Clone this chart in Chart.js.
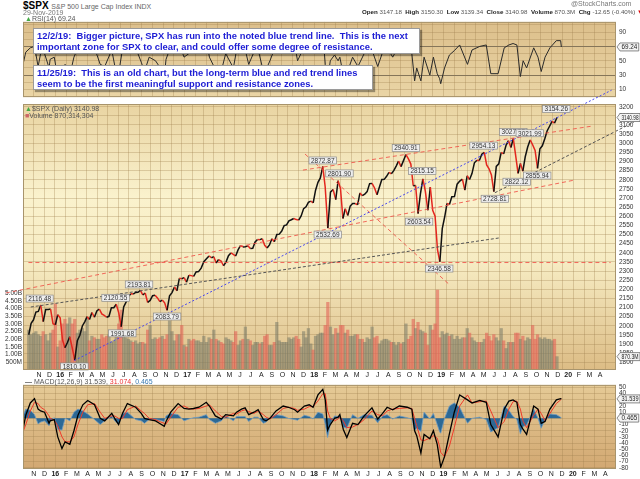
<!DOCTYPE html>
<html>
<head>
<meta charset="utf-8">
<title>$SPX</title>
<script src="https://cdn.jsdelivr.net/npm/chart.js@4.4.1/dist/chart.umd.min.js"></script>
<style>
  body { margin: 0; background: #fff; }
  #wrap { position: relative; width: 640px; height: 479px; overflow: hidden; font-family: "Liberation Sans", Arial, sans-serif; }
  canvas { position: absolute; left: 0; }
  .t { position: absolute; white-space: pre; font-size: 7px; line-height: 8px; color: #555; z-index: 3; }
  .t b { color: #222; }
  .note { position: absolute; z-index: 5; box-sizing: border-box; background: #fff; border: 1px solid #9a9a9a;
          box-shadow: 2px 2px 1px rgba(0,0,0,0.35); color: #1c1cd4; font: bold 9.4px "Liberation Sans", Arial, sans-serif;
          line-height: 11px; padding: 1px 0 0 3px; white-space: pre; }
</style>
</head>
<body>
<div id="wrap">
  <canvas id="rsiChart" width="640" height="89" style="top:15px;z-index:1"></canvas>
  <canvas id="priceChart" width="640" height="298" style="top:80px;z-index:2"></canvas>
  <canvas id="macdChart" width="640" height="101" style="top:378px;z-index:1"></canvas>

  <div class="t" style="left:23px;top:0px;font-size:10px;line-height:11px;"><b style="color:#000">$SPX</b> <span style="font-size:7px;color:#666">S&amp;P 500 Large Cap Index INDX</span></div>
  <div class="t" style="left:23px;top:9px;color:#777">29-Nov-2019</div>
  <div class="t" style="left:571px;top:0px;color:#777">@StockCharts.com</div>
  <div class="t" style="left:362px;top:8px;font-size:6.2px;"><b>Open</b> 3147.18  <b>High</b> 3150.30  <b>Low</b> 3139.34  <b>Close</b> 3140.98  <b>Volume</b> 870.3M  <b>Chg</b> -12.65 (-0.40%) <span style="color:#d00">▼</span></div>

  <div class="t" style="left:25px;top:15px;"><span style="color:#4a4">▲</span>RSI(14) 69.24</div>
  <div class="t" style="left:25px;top:105px;"><span style="color:#4a4">▲</span>$SPX (Daily) 3140.98</div>
  <div class="t" style="left:25px;top:112px;"><span style="color:#c66">■</span>Volume 870,314,304</div>
  <div class="t" style="left:25px;top:378px;"><span style="color:#000">—</span> MACD(12,26,9) 31.539, <span style="color:#e33">31.074</span>, <span style="color:#3a7ab0">0.465</span></div>

  <div class="note" style="left:33px;top:28px;width:387px;height:26px;">12/2/19:  Bigger picture, SPX has run into the noted blue trend line.  This is the next
important zone for SPX to clear, and could offer some degree of resistance.</div>
  <div class="note" style="left:33px;top:65px;width:340px;height:25px;">11/25/19:  This is an old chart, but the long-term blue and red trend lines
seem to be the first meaningful support and resistance zones.</div>
</div>

<script>
// $SPX price and volume, one reading per week (swing extremes kept)
const weekDates = [
  '2015-10-02','2015-10-09','2015-10-16','2015-10-23','2015-10-30','2015-11-06','2015-11-13','2015-11-20','2015-11-27',
  '2015-12-04','2015-12-11','2015-12-18','2015-12-25',
  '2016-01-01','2016-01-08','2016-01-15','2016-01-22','2016-01-29','2016-02-05','2016-02-12','2016-02-19','2016-02-26',
  '2016-03-04','2016-03-11','2016-03-18','2016-03-25','2016-04-01','2016-04-08','2016-04-15','2016-04-22','2016-04-29',
  '2016-05-06','2016-05-13','2016-05-20','2016-05-27','2016-06-03','2016-06-10','2016-06-17','2016-06-24',
  '2016-07-01','2016-07-08','2016-07-15','2016-07-22','2016-07-29','2016-08-05','2016-08-12','2016-08-19','2016-08-26',
  '2016-09-02','2016-09-09','2016-09-16','2016-09-23','2016-09-30','2016-10-07','2016-10-14','2016-10-21','2016-10-28',
  '2016-11-04','2016-11-11','2016-11-18','2016-11-25','2016-12-02','2016-12-09','2016-12-16','2016-12-23','2016-12-30',
  '2017-01-06','2017-01-13','2017-01-20','2017-01-27','2017-02-03','2017-02-10','2017-02-17','2017-02-24',
  '2017-03-03','2017-03-10','2017-03-17','2017-03-24','2017-03-31','2017-04-07','2017-04-14','2017-04-21','2017-04-28',
  '2017-05-05','2017-05-12','2017-05-19','2017-05-26','2017-06-02','2017-06-09','2017-06-16','2017-06-23','2017-06-30',
  '2017-07-07','2017-07-14','2017-07-21','2017-07-28','2017-08-04','2017-08-11','2017-08-18','2017-08-25',
  '2017-09-01','2017-09-08','2017-09-15','2017-09-22','2017-09-29','2017-10-06','2017-10-13','2017-10-20','2017-10-27',
  '2017-11-03','2017-11-10','2017-11-17','2017-11-24','2017-12-01','2017-12-08','2017-12-15','2017-12-22','2017-12-29',
  '2018-01-05','2018-01-12','2018-01-19','2018-01-26','2018-02-02','2018-02-09','2018-02-16','2018-02-23',
  '2018-03-02','2018-03-09','2018-03-16','2018-03-23','2018-03-30','2018-04-06','2018-04-13','2018-04-20','2018-04-27',
  '2018-05-04','2018-05-11','2018-05-18','2018-05-25','2018-06-01','2018-06-08','2018-06-15','2018-06-22','2018-06-29',
  '2018-07-06','2018-07-13','2018-07-20','2018-07-27','2018-08-03','2018-08-10','2018-08-17','2018-08-24','2018-08-31',
  '2018-09-07','2018-09-14','2018-09-21','2018-09-28','2018-10-05','2018-10-12','2018-10-19','2018-10-26',
  '2018-11-02','2018-11-09','2018-11-16','2018-11-23','2018-11-30','2018-12-07','2018-12-14','2018-12-21','2018-12-28',
  '2019-01-04','2019-01-11','2019-01-18','2019-01-25','2019-02-01','2019-02-08','2019-02-15','2019-02-22',
  '2019-03-01','2019-03-08','2019-03-15','2019-03-22','2019-03-29','2019-04-05','2019-04-12','2019-04-19','2019-04-26',
  '2019-05-03','2019-05-10','2019-05-17','2019-05-24','2019-05-31','2019-06-07','2019-06-14','2019-06-21','2019-06-28',
  '2019-07-05','2019-07-12','2019-07-19','2019-07-26','2019-08-02','2019-08-09','2019-08-16','2019-08-23','2019-08-30',
  '2019-09-06','2019-09-13','2019-09-20','2019-09-27','2019-10-04','2019-10-11','2019-10-18','2019-10-25',
  '2019-11-01','2019-11-08','2019-11-15','2019-11-22','2019-11-29'
];
const closes = [
  1951, 2014, 2033, 2075, 2079, 2114, 2023, 2089, 2090, 2092, 2012, 2006, 2061,
  2044, 1922, 1880, 1907, 1940, 1880, 1812, 1918, 1948, 1999, 2022, 2050, 2035,
  2073, 2047, 2081, 2092, 2065, 2057, 2047, 2052, 2099, 2099, 2118, 2071, 1995,
  2103, 2130, 2162, 2175, 2174, 2183, 2184, 2194, 2169, 2180, 2128, 2139, 2165, 2168,
  2153, 2133, 2141, 2126, 2085, 2164, 2182, 2213, 2192, 2260, 2258, 2264, 2239,
  2277, 2275, 2271, 2295, 2297, 2316, 2351, 2367, 2383, 2373, 2378, 2344, 2363,
  2355, 2329, 2349, 2384, 2399, 2391, 2382, 2416, 2439, 2432, 2433, 2438, 2423,
  2425, 2459, 2473, 2472, 2477, 2441, 2426, 2443, 2477, 2461, 2500, 2502, 2519,
  2549, 2553, 2575, 2581, 2588, 2582, 2579, 2602, 2642, 2652, 2676, 2683, 2674,
  2743, 2786, 2810, 2873, 2762, 2535, 2732, 2747, 2691, 2795, 2752, 2588, 2641,
  2604, 2656, 2670, 2670, 2663, 2728, 2713, 2721, 2735, 2779, 2780, 2755, 2718,
  2760, 2801, 2802, 2819, 2840, 2833, 2850, 2875, 2902, 2872, 2905, 2938, 2914,
  2886, 2767, 2768, 2615, 2723, 2805, 2736, 2633, 2760, 2633, 2600, 2417, 2351,
  2532, 2596, 2671, 2665, 2707, 2708, 2776, 2793, 2804, 2743, 2822, 2801, 2834,
  2893, 2907, 2905, 2940, 2950, 2881, 2860, 2826, 2735, 2873, 2887, 2950, 2942,
  2990, 3014, 2977, 3026, 2932, 2835, 2889, 2847, 2926, 2979, 3018, 2992, 2961,
  2862, 2970, 2986, 3023, 3067, 3093, 3120, 3110, 3141
];
// volume, billions of shares
const volumes = [
  2.6, 2.3, 2.4, 2.5, 2.3, 2.2, 2.5, 2.3, 1.9, 2.4, 2.6, 4.3, 1.5,
  1.9, 3.0, 3.3, 3.0, 3.4, 3.0, 3.3, 2.4, 2.6, 2.7, 2.5, 3.4, 1.9,
  2.2, 2.1, 2.0, 2.0, 2.3, 2.1, 2.2, 2.3, 1.8, 1.9, 2.2, 3.0, 3.9,
  2.3, 2.1, 2.0, 1.9, 1.8, 1.9, 1.7, 1.8, 1.8, 1.7, 2.6, 2.9, 2.0, 2.1,
  2.0, 2.1, 2.2, 2.0, 2.3, 3.2, 2.5, 1.9, 2.3, 2.3, 2.9, 1.6, 1.5,
  2.0, 1.9, 2.0, 1.9, 1.9, 1.8, 2.2, 1.8, 2.1, 2.0, 2.6, 2.0, 1.9,
  1.8, 1.7, 2.1, 2.0, 1.9, 1.8, 2.5, 1.6, 1.9, 2.0, 2.8, 2.0, 1.9,
  1.6, 1.8, 1.8, 1.7, 1.8, 2.2, 2.3, 1.6, 1.6, 1.8, 3.1, 1.9, 1.8,
  1.8, 1.8, 2.1, 2.0, 2.1, 2.2, 2.0, 1.5, 2.5, 2.1, 2.7, 1.7, 1.3,
  2.2, 2.3, 2.4, 2.4, 2.9, 4.4, 2.8, 2.3, 2.7, 2.4, 2.9, 2.9, 2.4,
  2.6, 2.2, 2.2, 2.3, 2.3, 2.0, 2.0, 1.8, 2.1, 2.0, 2.8, 2.1, 2.2,
  1.7, 1.9, 2.0, 2.0, 1.9, 1.8, 1.8, 1.6, 1.8, 1.7, 1.8, 3.0, 2.0,
  2.2, 3.3, 2.7, 3.1, 2.6, 2.5, 2.4, 1.6, 2.9, 2.6, 3.0, 5.2, 2.1,
  2.5, 2.3, 2.4, 2.2, 2.3, 2.0, 2.2, 2.0, 2.1, 2.1, 2.7, 2.4, 2.1,
  1.9, 1.8, 1.8, 1.8, 2.0, 2.4, 2.2, 1.9, 2.3, 2.1, 1.9, 2.7, 1.9,
  1.4, 1.8, 1.8, 1.8, 2.4, 2.4, 2.0, 2.2, 1.9, 2.1, 2.0, 2.9, 2.0,
  2.3, 2.1, 2.0, 2.1, 2.0, 2.0, 1.9, 2.0, 0.87
];

// RSI(14) and MACD(12,26,9) read at the swings
const indicatorDates = [
  '2015-10-01','2015-10-09','2015-10-22','2015-11-03','2015-11-13','2015-11-20','2015-12-01','2015-12-14','2015-12-17','2015-12-29',
  '2016-01-08','2016-01-20','2016-01-29','2016-02-11','2016-02-22','2016-03-04','2016-03-18','2016-04-01','2016-04-20','2016-05-06',
  '2016-05-19','2016-06-08','2016-06-16','2016-06-27','2016-07-08','2016-07-22','2016-08-15','2016-08-31','2016-09-09','2016-09-22',
  '2016-10-10','2016-10-21','2016-11-04','2016-11-09','2016-11-22','2016-12-13','2016-12-30',
  '2017-01-13','2017-01-26','2017-02-10','2017-03-01','2017-03-10','2017-03-27','2017-04-13','2017-04-25','2017-05-17','2017-05-26',
  '2017-06-09','2017-06-19','2017-06-29','2017-07-14','2017-07-26','2017-08-10','2017-08-18','2017-08-29','2017-09-15','2017-10-05',
  '2017-10-20','2017-11-07','2017-11-15','2017-12-04','2017-12-18','2017-12-29',
  '2018-01-12','2018-01-26','2018-02-02','2018-02-08','2018-02-15','2018-02-26','2018-03-08','2018-03-13','2018-03-23','2018-04-02',
  '2018-04-18','2018-05-03','2018-05-21','2018-06-12','2018-06-28','2018-07-12','2018-07-25','2018-08-10','2018-08-29','2018-09-20',
  '2018-10-03','2018-10-11','2018-10-17','2018-10-29','2018-11-07','2018-11-23','2018-12-03','2018-12-14','2018-12-21','2018-12-24',
  '2019-01-04','2019-01-18','2019-02-01','2019-02-15','2019-03-08','2019-03-21','2019-04-12','2019-04-30','2019-05-13','2019-06-03',
  '2019-06-20','2019-07-03','2019-07-15','2019-07-26','2019-08-05','2019-08-13','2019-08-23','2019-09-12','2019-09-24','2019-10-03',
  '2019-10-14','2019-10-28','2019-11-15','2019-11-27','2019-11-29'
];
const rsiValues = [
  45, 62, 68, 70, 42, 60, 60, 40, 52, 55,
  25, 22, 45, 30, 55, 68, 72, 70, 68, 45,
  42, 65, 44, 32, 66, 78, 68, 48, 35, 55,
  50, 42, 28, 52, 70, 78, 55,
  60, 68, 66, 80, 55, 38, 36, 60, 40, 65,
  62, 66, 45, 62, 66, 35, 38, 50, 72, 80,
  75, 72, 50, 70, 72, 62,
  85, 88, 45, 22, 50, 58, 50, 55, 30, 32,
  55, 42, 60, 65, 42, 62, 68, 55, 72, 68,
  60, 22, 40, 22, 55, 30, 55, 32, 25, 18,
  40, 58, 64, 72, 45, 65, 70, 72, 32, 32,
  68, 72, 74, 72, 28, 50, 40, 68, 55, 35,
  55, 68, 78, 78, 69.24
];
const macdValues = [
  -18, 5, 25, 32, 15, 12, 10, -8, -4, -2,
  -30, -49, -38, -42, -20, 5, 22, 29, 22, 0,
  -4, 8, 0, -10, 8, 24, 18, 8, 0, -2,
  -4, -8, -13, -5, 10, 24, 16,
  15, 16, 18, 26, 20, 4, -1, 6, 4, 10,
  15, 17, 6, 10, 14, -2, -4, 0, 12, 20,
  18, 14, 10, 20, 22, 18,
  38, 47, 30, -19, -10, 0, 2, 6, -18, -31,
  -8, -10, 4, 17, -1, 8, 18, 14, 20, 18,
  15, -20, -28, -56, -26, -33, -20, -42, -68, -79,
  -62, -25, 10, 38, 30, 25, 29, 26, -10, -30,
  15, 28, 30, 26, -10, -18, -26, 20, 15, -8,
  -5, 15, 30, 32, 31.539
];
const signalValues = [
  -22, -10, 12, 26, 24, 18, 14, 4, 0, -3,
  -12, -30, -38, -38, -30, -10, 10, 22, 24, 10,
  0, 4, 4, 0, 0, 14, 20, 12, 8, 0,
  -2, -5, -8, -9, 2, 18, 20,
  16, 15, 16, 20, 22, 12, 3, 2, 8, 7,
  12, 14, 11, 8, 12, 6, 2, -1, 6, 16,
  18, 16, 13, 15, 19, 19,
  28, 40, 40, 12, 0, -4, -1, 2, -4, -15,
  -14, -10, -2, 12, 6, 4, 12, 15, 16, 17,
  16, 0, -12, -35, -36, -32, -28, -32, -46, -55,
  -62, -45, -15, 20, 38, 25, 27, 28, 12, -15,
  -5, 15, 27, 28, 15, -5, -15, 5, 15, 8,
  -4, 8, 24, 30, 31.074
];
const histValues = [
  4, 15, 13, 6, -9, -6, -4, -12, -4, 1,
  -18, -19, 0, -4, 10, 15, 12, 7, -2, -10,
  -4, 4, -4, -10, 8, 10, -2, -4, -8, -2,
  -2, -3, -5, 4, 8, 6, -4,
  -1, 1, 2, 6, -2, -8, -4, 4, -4, 3,
  3, 3, -5, 2, 2, -8, -6, 1, 6, 4,
  0, -2, -3, 5, 3, -1,
  10, 7, -10, -31, -10, 4, 3, 4, -14, -16,
  6, 0, 6, 5, -7, 4, 6, -1, 4, 1,
  -1, -20, -16, -21, 10, -1, 8, -10, -22, -24,
  0, 20, 25, 18, -8, 0, 2, -2, -22, -15,
  20, 13, 3, -2, -25, -13, -11, 15, 0, -16,
  -1, 7, 6, 2, 0.465
];

// axis labels, one per month from Oct 2015
const monthLabels = ['O','N','D',
  '16','F','M','A','M','J','J','A','S','O','N','D',
  '17','F','M','A','M','J','J','A','S','O','N','D',
  '18','F','M','A','M','J','J','A','S','O','N','D',
  '19','F','M','A','M','J','J','A','S','O','N','D',
  '20','F','M','A'];
const priceTicks = [1800,1850,1900,1950,2000,2050,2100,2150,2200,2250,2300,2350,2400,2450,2500,
  2550,2600,2650,2700,2750,2800,2850,2900,2950,3000,3050,3100,3150,3200];
const volumeTicks = [0.5,1,1.5,2,2.5,3,3.5,4,4.5,5];
const rsiTicks = [0,10,20,30,40,50,60,70,80,90,100];
const macdTicks = [-80,-70,-60,-50,-40,-30,-20,-10,0,10,20,30,40,50];

// hand-drawn annotations on the chart: [kind, from date, from price, to date, to price]
const trendLines = [
  ['blue', '2016-02-11', 1810.10, '2020-05-04', 3291],
  ['red',  '2015-07-28', 2180,    '2020-01-21', 2799],
  ['red',  '2017-11-29', 2853,    '2020-03-09', 3094],
  ['red',  '2017-12-05', 2941,    '2019-01-26', 2224],
  ['red',  '2015-10-01', 2346.58, '2020-05-01', 2346.58],
  ['gray', '2015-10-08', 2103,    '2019-06-14', 2481],
  ['gray', '2019-06-03', 2728.81, '2020-07-07', 3116]
];
// price labels: [date, price, H = peak / L = trough]
const priceNotes = [
  ['2015-11-03', 2116.48, 'H'], ['2016-02-11', 1810.10, 'L'], ['2016-06-08', 2120.55, 'H'],
  ['2016-06-27', 1991.68, 'L'], ['2016-08-15', 2193.81, 'H'], ['2016-11-04', 2083.79, 'L'],
  ['2018-01-26', 2872.87, 'H'], ['2018-03-13', 2801.90, 'H'], ['2018-02-09', 2532.69, 'L'],
  ['2018-09-21', 2940.91, 'H'], ['2018-11-07', 2815.15, 'H'], ['2018-10-29', 2603.54, 'L'],
  ['2018-12-26', 2346.58, 'L'], ['2019-05-01', 2954.13, 'H'], ['2019-06-03', 2728.81, 'L'],
  ['2019-07-26', 3027.98, 'H'], ['2019-09-12', 3021.99, 'H'], ['2019-08-05', 2822.12, 'L'],
  ['2019-10-03', 2855.94, 'L'], ['2019-11-27', 3154.26, 'H']
];

const FONT = '"Liberation Sans", Arial, sans-serif';
const GRID = 'rgba(160,128,78,0.32)';
const UP = '#111';
const DOWN = '#e3261e';
const lineStyles = {
  blue: { color: '#4646f0', dash: [2, 2], width: 1 },
  red:  { color: 'rgba(240,80,70,0.85)', dash: [4, 3], width: 1 },
  gray: { color: '#555', dash: [3, 2], width: 1 }
};

// date string -> months since 1 Oct 2015
function toX(s) {
  const [y, m, d] = s.split('-').map(Number);
  const days = new Date(y, m, 0).getDate();
  return (y - 2015) * 12 + (m - 1) - 9 + (d - 1) / days;
}
const pairUp = (ds, vals) => vals.map((v, i) => ({ x: toX(ds[i]), y: v }));

Chart.defaults.font.family = FONT;
Chart.defaults.color = '#333';

const panelBg = {
  id: 'panelBg',
  beforeDraw(chart, args, opts) {
    const { ctx, chartArea: a } = chart;
    const g = ctx.createLinearGradient(0, a.top, 0, a.bottom);
    opts.stops.forEach(s => g.addColorStop(s[0], s[1]));
    ctx.save();
    ctx.fillStyle = g;
    ctx.fillRect(a.left, a.top, a.right - a.left, a.bottom - a.top);
    ctx.restore();
  },
  afterDraw(chart) {
    const { ctx, chartArea: a } = chart;
    ctx.save();
    ctx.strokeStyle = '#a8946c';
    ctx.lineWidth = 1;
    ctx.strokeRect(a.left + 0.5, a.top + 0.5, a.right - a.left - 1, a.bottom - a.top - 1);
    ctx.restore();
  }
};

// boxed last values on the right edge
const valueTags = {
  id: 'tags',
  afterDraw(chart, args, opts) {
    const ctx = chart.ctx;
    ctx.save();
    ctx.font = '6.3px ' + FONT;
    ctx.textBaseline = 'middle';
    opts.items.forEach(t => {
      const y = chart.scales[t.scale].getPixelForValue(t.value);
      const x = chart.chartArea.right + 1;
      const room = chart.width - (x + 5) - 1;
      const tw = Math.min(ctx.measureText(t.text).width, room);
      const w = tw + 3;
      ctx.beginPath();
      ctx.moveTo(x, y);
      ctx.lineTo(x + 3, y - 4);
      ctx.lineTo(x + 3 + w, y - 4);
      ctx.lineTo(x + 3 + w, y + 4);
      ctx.lineTo(x + 3, y + 4);
      ctx.closePath();
      ctx.fillStyle = '#f4f4f4';
      ctx.fill();
      ctx.strokeStyle = '#6d6d6d';
      ctx.lineWidth = 0.8;
      ctx.stroke();
      ctx.fillStyle = '#222';
      ctx.fillText(t.text, x + 4.5, y + 0.5, tw);
    });
    ctx.restore();
  }
};

const annotations = {
  id: 'annotations',
  afterDatasetsDraw(chart) {
    const { ctx, scales: { x, y } } = chart;
    ctx.save();
    trendLines.forEach(([kind, d1, p1, d2, p2]) => {
      const st = lineStyles[kind];
      ctx.strokeStyle = st.color;
      ctx.lineWidth = st.width;
      ctx.setLineDash(st.dash);
      ctx.beginPath();
      ctx.moveTo(x.getPixelForValue(toX(d1)), y.getPixelForValue(p1));
      ctx.lineTo(x.getPixelForValue(toX(d2)), y.getPixelForValue(p2));
      ctx.stroke();
    });
    ctx.setLineDash([]);
    ctx.font = '6.5px ' + FONT;
    ctx.textBaseline = 'middle';
    ctx.textAlign = 'center';
    priceNotes.forEach(([d, p, kind]) => {
      const px = x.getPixelForValue(toX(d));
      const py = y.getPixelForValue(p);
      const txt = p.toFixed(2);
      const w = ctx.measureText(txt).width + 4;
      const h = 7;
      const cy = kind === 'H' ? py - 6 : py + 6;
      ctx.fillStyle = '#eeeeee';
      ctx.strokeStyle = '#8a8a8a';
      ctx.lineWidth = 0.7;
      ctx.fillRect(px - w / 2, cy - h / 2, w, h);
      ctx.strokeRect(px - w / 2, cy - h / 2, w, h);
      ctx.fillStyle = '#333';
      ctx.fillText(txt, px, cy + 0.5);
    });
    ctx.restore();
  }
};

function xAxis(labelHeight) {
  return {
    type: 'linear', min: 0, max: 55,
    afterBuildTicks: s => { s.ticks = monthLabels.map((l, i) => ({ value: i })); },
    afterFit: s => { s.height = labelHeight; },
    grid: { color: GRID, drawTicks: false },
    border: { display: false },
    ticks: {
      display: labelHeight > 0, autoSkip: false, maxRotation: 0, padding: 1, color: '#222',
      font: c => ({ size: 7, weight: /\d/.test(monthLabels[c.index] || '') ? 'bold' : 'normal' }),
      callback: (v, i) => (i === 0 ? '' : monthLabels[i])
    }
  };
}
function rightAxis(min, max, ticks, fmt, gridColor) {
  return {
    position: 'right', min: min, max: max,
    afterBuildTicks: s => { s.ticks = ticks.map(v => ({ value: v })); },
    afterFit: s => { s.width = 24; },
    grid: { color: gridColor || GRID, drawTicks: false },
    border: { display: false },
    ticks: { autoSkip: false, padding: 3, color: '#333', font: { size: 6.5 }, callback: fmt }
  };
}
const common = {
  responsive: false, animation: false, devicePixelRatio: 1, events: [],
  elements: { point: { radius: 0 } }
};

// RSI panel
new Chart(document.getElementById('rsiChart'), {
  type: 'line',
  data: { datasets: [{ data: pairUp(indicatorDates, rsiValues), borderColor: '#2a2a2a', borderWidth: 1, tension: 0 }] },
  options: Object.assign({}, common, {
    layout: { padding: { left: 23, right: 0, top: 0, bottom: 0 } },
    scales: {
      x: xAxis(0),
      y: rightAxis(-0.6, 104.1, rsiTicks, v => (v % 20 === 10 ? v : ''),
        c => (c.tick && (c.tick.value === 30 || c.tick.value === 70) ? '#857559' : GRID))
    },
    plugins: {
      legend: { display: false }, tooltip: { enabled: false },
      panelBg: { stops: [[0, '#dcbf8b'], [1, '#ead5a6']] },
      tags: { items: [{ scale: 'y', value: 69.24, text: '69.24' }] }
    }
  }),
  plugins: [panelBg, valueTags]
});

// price + volume panel
const volColors = closes.map((c, i) => (i > 0 && c < closes[i - 1] ? 'rgba(226,98,86,0.6)' : 'rgba(120,122,104,0.55)'));
new Chart(document.getElementById('priceChart'), {
  type: 'line',
  data: {
    datasets: [
      {
        data: pairUp(weekDates, closes), yAxisID: 'y', order: 0,
        borderWidth: 1.5, tension: 0, borderColor: UP,
        segment: { borderColor: c => (c.p1.parsed.y < c.p0.parsed.y ? DOWN : UP) }
      },
      {
        type: 'bar', data: pairUp(weekDates, volumes), yAxisID: 'vol', order: 1,
        backgroundColor: volColors, barThickness: 2.6
      }
    ]
  },
  options: Object.assign({}, common, {
    layout: { padding: { left: 0, right: 0, top: 24, bottom: 0 } },
    scales: {
      x: xAxis(8),
      y: rightAxis(1758, 3215, priceTicks, v => v),
      vol: {
        position: 'left', min: 0, max: 17.3,
        afterBuildTicks: s => { s.ticks = volumeTicks.map(v => ({ value: v })); },
        afterFit: s => { s.width = 23; },
        grid: { display: false, drawTicks: false }, border: { display: false },
        ticks: { autoSkip: false, padding: 1, color: '#333', font: { size: 6.5 },
          callback: v => (v < 1 ? Math.round(v * 1000) + 'M' : v.toFixed(2) + 'B') }
      }
    },
    plugins: {
      legend: { display: false }, tooltip: { enabled: false },
      panelBg: { stops: [[0, '#e9d4a2'], [0.35, '#faf2cd'], [0.6, '#f6ebc2'], [1, '#dcbc85']] },
      tags: { items: [{ scale: 'y', value: 3140.98, text: '3140.98' }, { scale: 'vol', value: 0.8703, text: '870.3M' }] }
    }
  }),
  plugins: [panelBg, annotations, valueTags]
});

// MACD panel
new Chart(document.getElementById('macdChart'), {
  type: 'line',
  data: {
    datasets: [
      { data: pairUp(indicatorDates, macdValues), borderColor: '#000', borderWidth: 1.3, tension: 0, order: 0 },
      { data: pairUp(indicatorDates, signalValues), borderColor: '#f03a2a', borderWidth: 1, tension: 0, order: 1 },
      { data: pairUp(indicatorDates, histValues), borderColor: '#6f9cc2', borderWidth: 0.8, tension: 0, order: 2,
        fill: 'origin', backgroundColor: 'rgba(28,98,152,0.92)' }
    ]
  },
  options: Object.assign({}, common, {
    layout: { padding: { left: 23, right: 0, top: 0, bottom: 0 } },
    scales: {
      x: xAxis(10),
      y: rightAxis(-82, 54.2, macdTicks, v => v)
    },
    plugins: {
      legend: { display: false }, tooltip: { enabled: false }, filler: { propagate: false },
      panelBg: { stops: [[0, '#e5ca96'], [1, '#d2a872']] },
      tags: { items: [{ scale: 'y', value: 31.539, text: '31.539' }, { scale: 'y', value: 0.465, text: '0.465' }] }
    }
  }),
  plugins: [panelBg, valueTags]
});
</script>
</body>
</html>
